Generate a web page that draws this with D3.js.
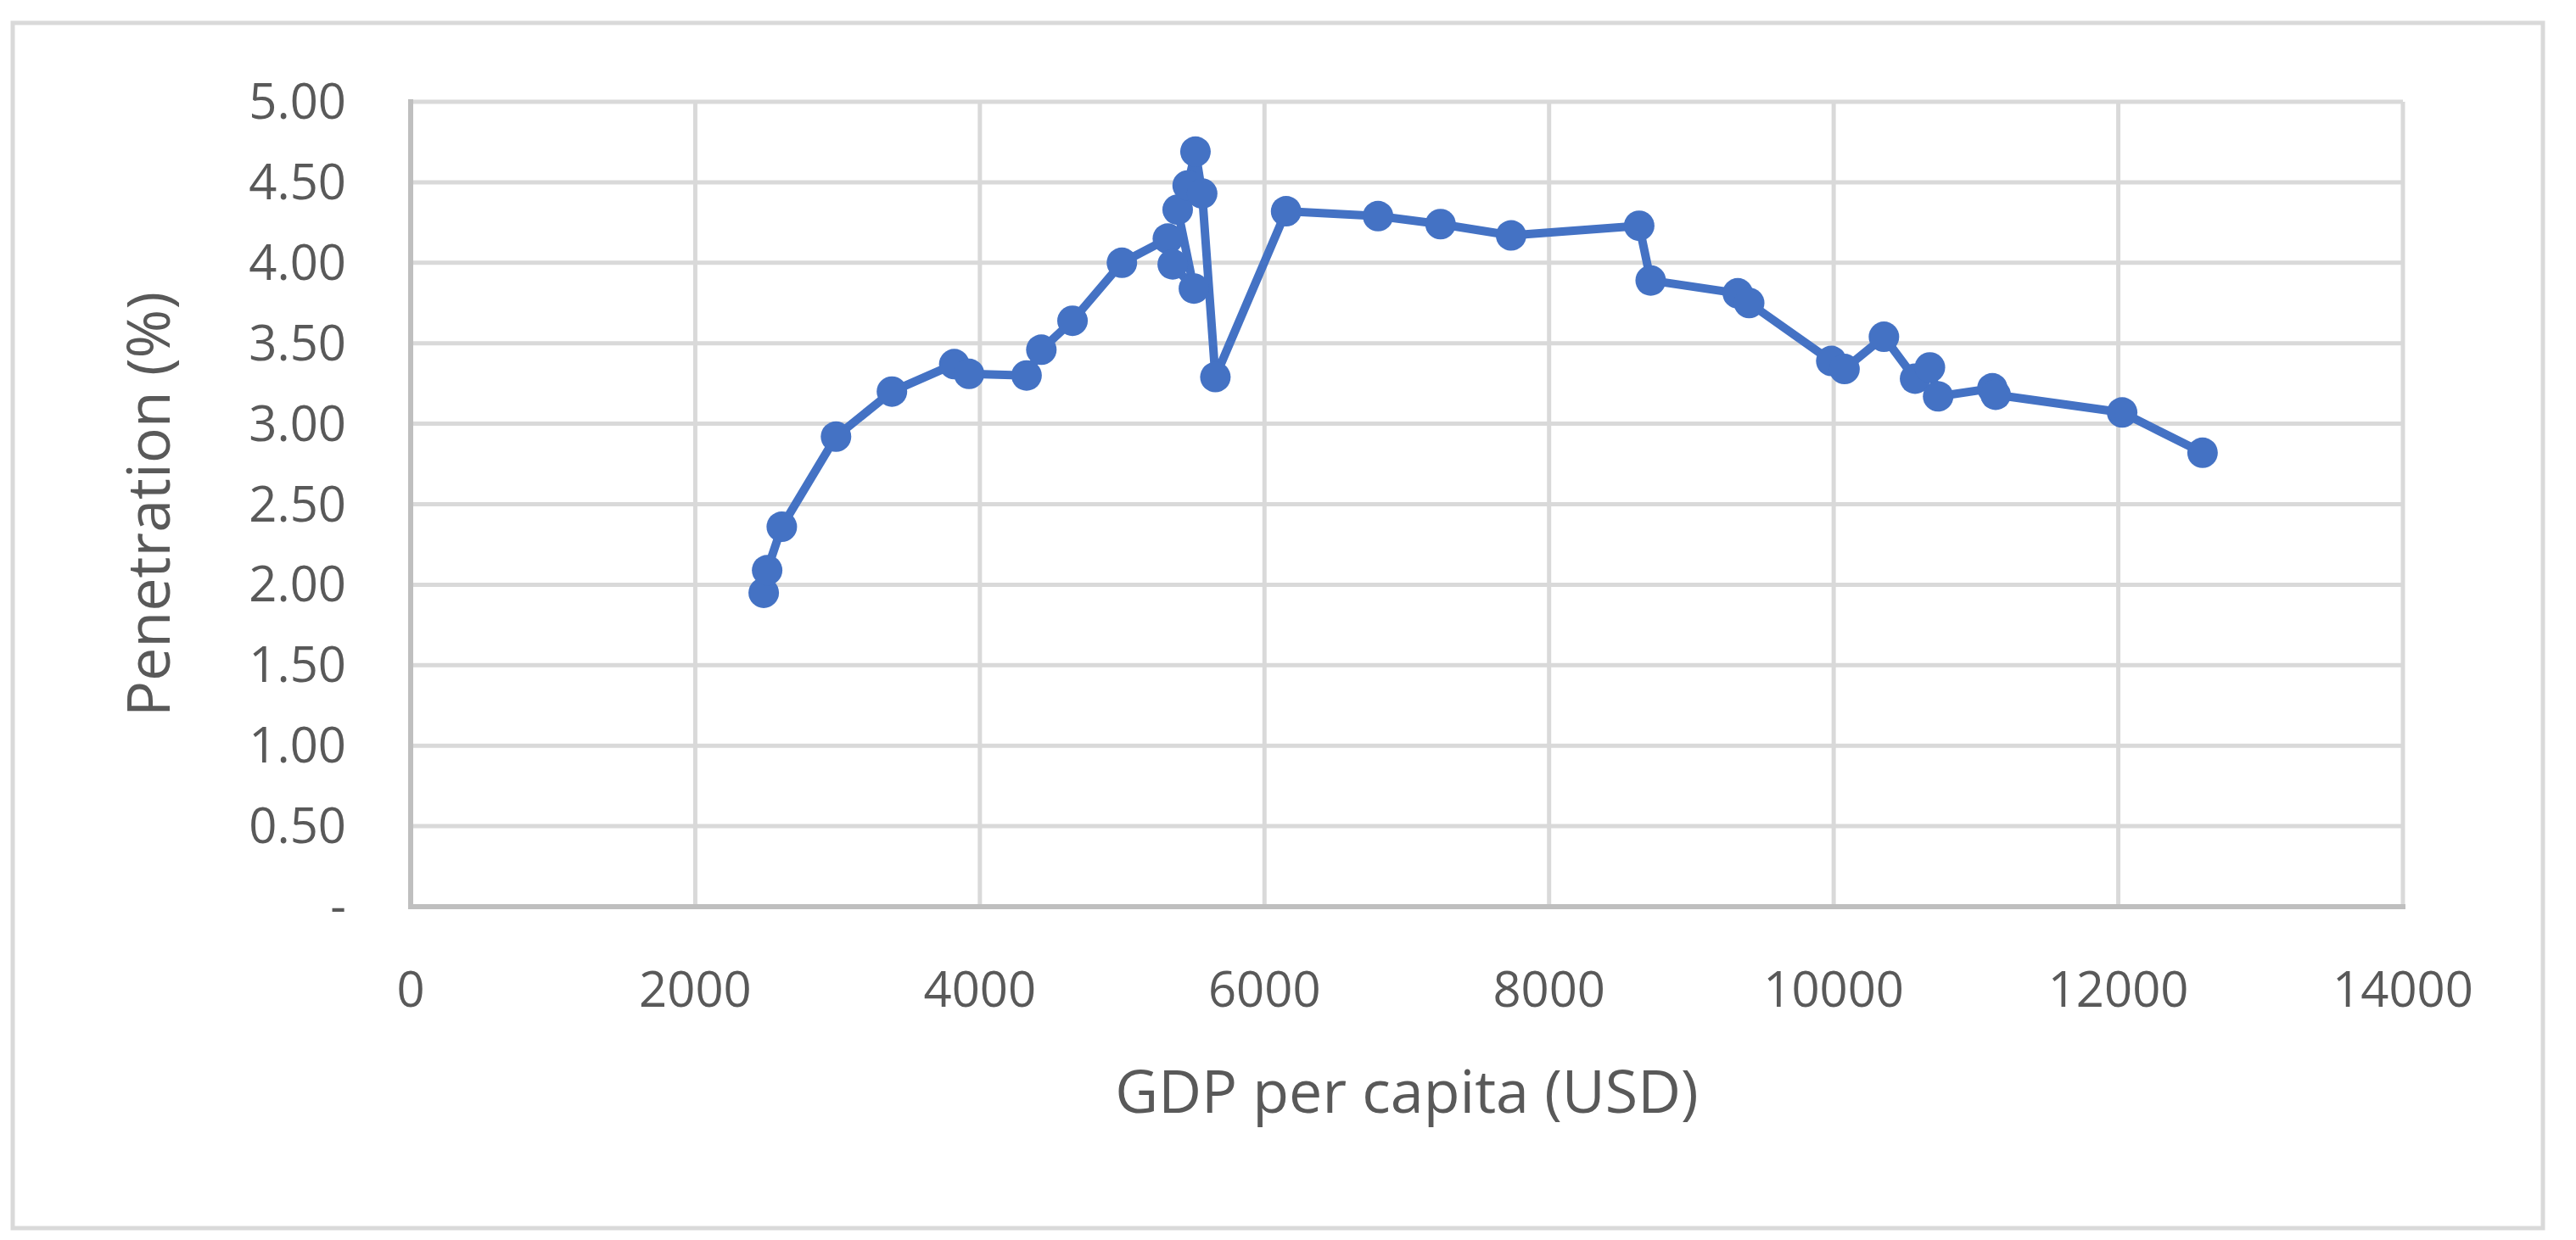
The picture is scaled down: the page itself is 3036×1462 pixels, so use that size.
<!DOCTYPE html>
<html><head><meta charset="utf-8">
<script src="https://cdn.jsdelivr.net/npm/d3@7"></script>
<style>html,body{margin:0;padding:0;background:#fff}</style>
</head><body><svg id="c" width="3036" height="1462"></svg>
<script>
const gdp = [2481,2505,2608,2989,3382,3820,3924,4328,4432,4651,4998,5321,5355,5504,5390,5460,5515,5562,5655,6152,6798,7237,7733,8633,8714,9326,9406,9983,10076,10353,10572,10676,10734,11115,11138,12027,12592];
const pen = [1.95,2.09,2.36,2.92,3.20,3.37,3.31,3.30,3.46,3.64,4.00,4.15,3.99,3.84,4.33,4.48,4.69,4.43,3.29,4.32,4.29,4.24,4.17,4.23,3.89,3.81,3.75,3.39,3.34,3.54,3.28,3.35,3.17,3.22,3.18,3.07,2.82];
const xTicks = [0,2000,4000,6000,8000,10000,12000,14000];
const yTicks = [0,0.5,1,1.5,2,2.5,3,3.5,4,4.5,5];
const xTitle = "GDP per capita (USD)", yTitle = "Penetration (%)";

const svg = d3.select("#c");
const L=484,R=2832,T=120,B=1069;
const font = "'Open Sans', 'Noto Sans', sans-serif";
svg.append("rect").attr("x",15).attr("y",27).attr("width",2982).attr("height",1421)
  .attr("fill","#fff").attr("stroke","#d9d9d9").attr("stroke-width",5);
const x = d3.scaleLinear().domain([0,14000]).range([L,R]);
const y = d3.scaleLinear().domain([0,5]).range([B,T]);
const g = svg.append("g");
g.selectAll(".gx").data(xTicks.slice(1)).join("line").attr("x1",d=>x(d)).attr("x2",d=>x(d)).attr("y1",T).attr("y2",B).attr("stroke","#d9d9d9").attr("stroke-width",5);
g.selectAll(".gy").data(yTicks.slice(1)).join("line").attr("x1",L).attr("x2",R).attr("y1",d=>y(d)).attr("y2",d=>y(d)).attr("stroke","#d9d9d9").attr("stroke-width",5);
g.append("line").attr("x1",L).attr("x2",L).attr("y1",T-3).attr("y2",B+3).attr("stroke","#bfbfbf").attr("stroke-width",6);
g.append("line").attr("x1",L).attr("x2",R+3).attr("y1",B).attr("y2",B).attr("stroke","#bfbfbf").attr("stroke-width",6);
g.selectAll(".xl").data(xTicks).join("text").attr("x",d=>x(d)).attr("y",B+118).attr("text-anchor","middle")
  .attr("font-family",font).attr("font-size",58).attr("fill","#595959").text(d=>d);
g.selectAll(".yl").data(yTicks).join("text").attr("x",L-76).attr("y",d=>y(d)+20).attr("text-anchor","end")
  .attr("font-family",font).attr("font-size",58).attr("fill","#595959").text(d=>d===0?"-":d.toFixed(2));
svg.append("text").attr("x",(L+R)/2).attr("y",1312).attr("text-anchor","middle").attr("font-family",font)
  .attr("font-size",70).attr("fill","#595959").text(xTitle);
svg.append("text").attr("transform",`translate(200,${(T+B)/2}) rotate(-90)`).attr("text-anchor","middle").attr("font-family",font)
  .attr("font-size",70).attr("fill","#595959").text(yTitle);
const pts = gdp.map((v,i)=>[v,pen[i]]);
svg.append("path").datum(pts).attr("d",d3.line().x(d=>x(d[0])).y(d=>y(d[1])))
  .attr("fill","none").attr("stroke","#4472C4").attr("stroke-width",10).attr("stroke-linejoin","round");
svg.selectAll(".pt").data(pts).join("circle").attr("cx",d=>x(d[0])).attr("cy",d=>y(d[1])).attr("r",18).attr("fill","#4472C4");
</script></body></html>
